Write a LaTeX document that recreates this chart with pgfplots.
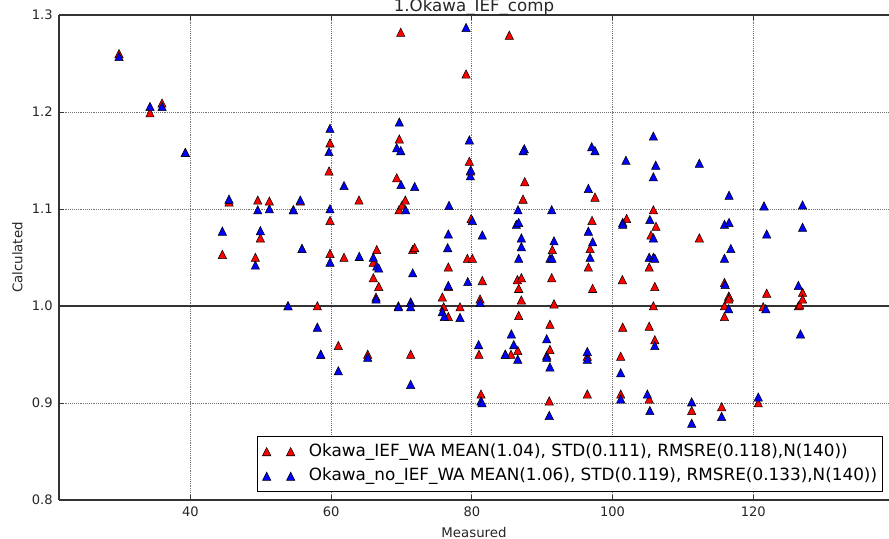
\documentclass[border=0pt]{standalone}
\usepackage{fontspec}
\setmainfont{DejaVu Sans}
\usepackage{pgfplots}
\pgfplotsset{compat=1.18}
\begin{document}
\begin{tikzpicture}
\begin{axis}[
  at={(0,0)}, anchor=south west,
  scale only axis, width=622.5pt, height=363.75pt,
  xmin=21.34, xmax=139.28, ymin=0.8, ymax=1.3,
  axis x line*=box, axis y line*=left,
  axis line style={black!80, line width=0.9pt},
  tick align=inside,
  major tick length=3.75pt,
  tick style={black!80, line width=0.7pt},
  xtick={40,60,80,100,120},
  ytick={0.8,0.9,1.0,1.1,1.2,1.3},
  /pgf/number format/assume math mode=true,
  ticklabel style={font=\fontsize{9.8}{11}\selectfont, black!85},
  xticklabel style={yshift=-1.7pt},
  yticklabel style={xshift=-1.2pt, /pgf/number format/.cd, fixed, fixed zerofill, precision=1},
  grid=major,
  major grid style={densely dotted, black!55, line width=0.5pt},
  title={1.Okawa\_IEF\_comp},
  every axis title shift=0pt,
  title style={at={(axis description cs:0.5,1)}, anchor=base, yshift=2.6pt, font=\fontsize{12.5}{15}\selectfont, black!85},
  xlabel={Measured}, ylabel={Calculated},
  every axis x label/.style={at={(axis description cs:0.5,-0.0763)}, anchor=base, font=\fontsize{10}{12}\selectfont, black!85},
  every axis y label/.style={at={(axis description cs:-0.05,0.5)}, rotate=90, anchor=center, font=\fontsize{10}{12}\selectfont, black!85},
  legend style={at={(axis description cs:1,0)}, anchor=south east, xshift=-4.5pt, yshift=6pt,
    draw=black, line width=0.8pt, fill=white, font=\fontsize{12.63}{15}\selectfont,
    inner xsep=4pt, inner ysep=5pt, row sep=6pt,
    nodes={inner sep=0pt, text height=9.5pt, text depth=3pt},
    /tikz/every odd column/.append style={column sep=10.5pt}},
  legend cell align=left,
  legend image code/.code={\draw[#1] plot coordinates {(0pt,0pt) (18pt,0pt)};},
]
\addplot[black!80, line width=1.1pt, forget plot] coordinates {(0,1) (200,1)};
\addplot[only marks, mark=triangle*, mark size=3.6pt,
  mark options={yshift=-0.9pt, yscale=1.15, draw=black, line width=0.4pt, fill=red}]
coordinates {
(29.87,1.260) (34.27,1.199) (35.98,1.209) (39.29,1.158) (44.55,1.053) (45.5,1.107)
(49.24,1.050) (49.58,1.109) (49.95,1.070) (51.23,1.108) (53.88,1.000) (54.64,1.099)
(55.63,1.108) (55.87,1.059) (58.05,1.000) (58.53,0.950) (59.71,1.139) (59.85,1.168)
(59.85,1.088) (59.85,1.054) (61.03,0.959) (61.84,1.050) (63.97,1.109) (65.2,0.950)
(66.0,1.029) (66.0,1.045) (66.39,1.009) (66.49,1.058) (66.77,1.020) (69.33,1.132)
(69.56,1.000) (69.66,1.099) (69.9,1.282) (69.7,1.172) (70.1,1.104) (70.55,1.109)
(71.31,1.004) (71.31,0.950) (71.6,1.058) (71.88,1.060) (74.4,1.302) (75.81,1.009)
(76.0,0.999) (76.66,0.989) (76.66,1.020) (76.66,1.040) (78.32,0.999) (79.18,1.239)
(79.37,1.049) (79.65,1.149) (79.79,1.139) (79.9,1.090) (80.08,1.049) (81.02,0.950)
(81.17,1.007) (81.31,0.909) (81.49,1.026) (84.76,0.950) (85.33,1.279) (85.57,0.950)
(86.47,1.027) (86.53,0.954) (86.66,1.018) (86.66,0.990) (87.04,1.029) (87.04,1.006)
(87.28,1.110) (87.52,1.128) (90.64,0.949) (91.0,0.902) (91.1,0.981) (91.1,0.955)
(91.35,1.029) (91.44,1.058) (91.68,1.002) (96.41,0.948) (96.41,0.909) (96.56,1.040)
(96.8,1.059) (97.08,1.088) (97.17,1.018) (97.5,1.112) (101.16,0.948) (101.16,0.909)
(101.39,1.027) (101.44,0.978) (102.0,1.090) (105.2,1.040) (105.2,0.979) (105.2,0.904)
(105.46,1.073) (105.8,1.099) (105.8,1.000) (106.0,1.020) (106.0,0.965) (106.17,1.082)
(111.24,0.892) (112.33,1.070) (115.5,0.896) (115.9,1.024) (115.9,1.000) (115.9,0.989)
(116.5,1.010) (116.6,1.009) (116.5,1.007) (120.7,0.900) (121.4,0.999) (121.9,1.013)
(126.4,1.000) (126.6,1.001) (127.0,1.014) (127.0,1.007)
};
\addlegendentry{Okawa\_IEF\_WA MEAN(1.04), STD(0.111), RMSRE(0.118),N(140))}
\addplot[only marks, mark=triangle*, mark size=3.6pt,
  mark options={yshift=-0.9pt, yscale=1.15, draw=black, line width=0.4pt, fill=blue}]
coordinates {
(29.87,1.257) (34.27,1.2055) (35.98,1.2055) (39.29,1.158) (44.55,1.077) (45.5,1.110)
(49.24,1.042) (49.58,1.099) (49.95,1.0775) (51.23,1.100) (53.88,1.000) (54.64,1.099)
(55.63,1.109) (55.87,1.059) (58.05,0.978) (58.53,0.950) (59.71,1.159) (59.85,1.183)
(59.85,1.100) (59.85,1.045) (61.03,0.933) (61.84,1.124) (64.0,1.051) (65.2,0.947)
(66.0,1.050) (66.39,1.007) (66.49,1.041) (66.77,1.039) (69.33,1.163) (69.56,0.999)
(69.7,1.1895) (69.9,1.160) (69.94,1.125) (70.6,1.099) (71.31,1.0035) (71.31,0.999)
(71.31,0.919) (71.6,1.034) (71.88,1.123) (75.81,0.994) (76.1,0.989) (76.57,1.060)
(76.66,1.074) (76.66,1.021) (76.76,1.1035) (78.32,0.988) (79.18,1.287) (79.42,1.025)
(79.65,1.171) (79.79,1.134) (79.85,1.140) (80.08,1.088) (80.97,0.960) (81.31,0.902)
(81.45,0.900) (81.49,1.073) (81.17,1.0035) (84.76,0.950) (85.33,1.302) (85.62,0.971)
(85.96,0.960) (86.33,1.084) (86.53,0.945) (86.56,1.099) (86.66,1.086) (86.66,1.049)
(87.04,1.070) (87.04,1.061) (87.46,1.162) (87.3,1.160) (90.64,0.966) (90.64,0.947)
(91.0,0.887) (91.1,0.937) (91.1,1.049) (91.35,1.099) (91.68,1.067) (91.4,1.049)
(96.41,0.953) (96.41,0.945) (96.56,1.121) (96.56,1.077) (96.8,1.050) (97.04,1.164)
(97.17,1.066) (97.5,1.160) (101.16,0.931) (101.16,0.904) (101.44,1.086) (101.44,1.084)
(101.9,1.150) (104.94,0.909) (105.2,1.050) (105.3,1.089) (105.3,0.892) (105.8,1.175)
(105.8,1.133) (105.8,1.070) (105.8,1.050) (106.0,1.049) (106.0,0.959) (106.13,1.145)
(111.24,0.901) (111.24,0.879) (112.33,1.147) (115.5,0.886) (115.9,1.084) (115.9,1.049)
(116.0,1.022) (116.55,1.114) (116.55,1.086) (116.5,0.997) (116.8,1.059) (120.7,0.906)
(121.52,1.103) (121.77,0.997) (121.9,1.074) (126.4,1.021) (126.7,0.971) (127.0,1.104)
(127.0,1.081)
};
\addlegendentry{Okawa\_no\_IEF\_WA MEAN(1.06), STD(0.119), RMSRE(0.133),N(140))}
\end{axis}
\pgfresetboundingbox
\useasboundingbox (-44.25pt,-29.25pt) rectangle (622.5pt,375pt);
\end{tikzpicture}
\end{document}
